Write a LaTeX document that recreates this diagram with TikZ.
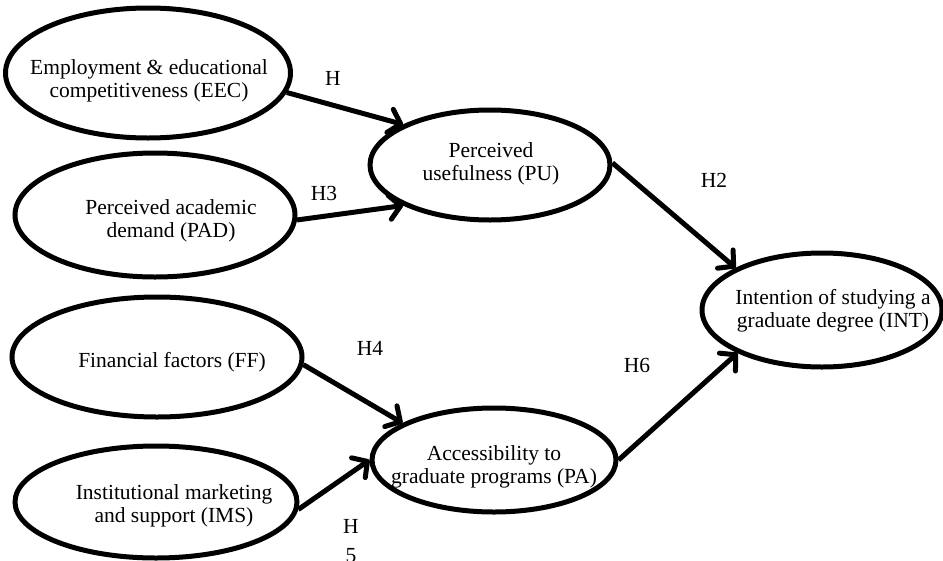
\documentclass[tikz,border=0pt]{standalone}
\usepackage{fontspec}
\setmainfont{Liberation Serif}
\usetikzlibrary{shapes.geometric,arrows.meta}

\begin{document}
\begin{tikzpicture}[x=1pt,y=-1pt,
		construct/.style={ellipse,draw,line width=5pt,inner sep=0pt},
		txt/.style={align=center,inner sep=0pt,font=\fontsize{21.5}{23}\selectfont},
		hyp/.style={anchor=base,inner sep=0pt,font=\fontsize{21.5}{23}\selectfont},
		link/.style={line width=5pt,-{Straight Barb[round,length=11pt,width=24pt]}}]
		\useasboundingbox (0,0) rectangle (943,560);
		% constructs
		\node[construct,minimum width=285pt,minimum height=130pt] (eec) at (148,73) {};
		\node[construct,minimum width=280pt,minimum height=124pt] (pad) at (155,215) {};
		\node[construct,minimum width=240pt,minimum height=110pt] (pu) at (490,165) {};
		\node[construct,minimum width=240pt,minimum height=114pt] (int) at (822,310) {};
		\node[construct,minimum width=290pt,minimum height=120pt] (ff) at (157,357) {};
		\node[construct,minimum width=282pt,minimum height=112pt] (ims) at (156,502) {};
		\node[construct,minimum width=244pt,minimum height=104pt] (pa) at (494,460) {};
		\node[txt] (eect) at ([shift={(1,8)}]eec) {Employment \& educational\\competitiveness (EEC)};
		\node[txt] (padt) at ([shift={(16,6)}]pad) {Perceived academic\\demand (PAD)};
		\node[txt] (put) at ([shift={(1,-1)}]pu) {Perceived\\usefulness (PU)};
		\node[txt] (intt) at ([shift={(11,1)}]int) {Intention of studying a\\graduate degree (INT)};
		\node[txt] (fft) at ([shift={(15,5)}]ff) {Financial factors (FF)};
		\node[txt] (imst) at ([shift={(18,4)}]ims) {Institutional marketing\\and support (IMS)};
		\node[txt] (pat) at ([shift={(0,7)}]pa) {Accessibility to\\graduate programs (PA)};
		% paths
		\draw[link] (eec.-8) -- (pu.155);
		\draw[link] (pad.-2) -- (pu.205);
		\draw[link] (pu.1) -- (int.154);
		\draw[link] (ff.-3) -- (pa.158);
		\draw[link] (ims.-3) -- (pa.180);
		\draw[link] (pa.0) -- (int.207);
		% hypotheses
		\node[hyp] (h1) at (333,85) {H};
		\node[hyp] (h3) at (324,200) {H3};
		\node[hyp] (h2) at (714,187) {H2};
		\node[hyp] (h4) at (370,355) {H4};
		\node[hyp] (h6) at (637,372) {H6};
		\node[hyp,align=center,anchor=north] (h5) at (351,519) {H\\[6pt]5};
	\end{tikzpicture}
\end{document}
